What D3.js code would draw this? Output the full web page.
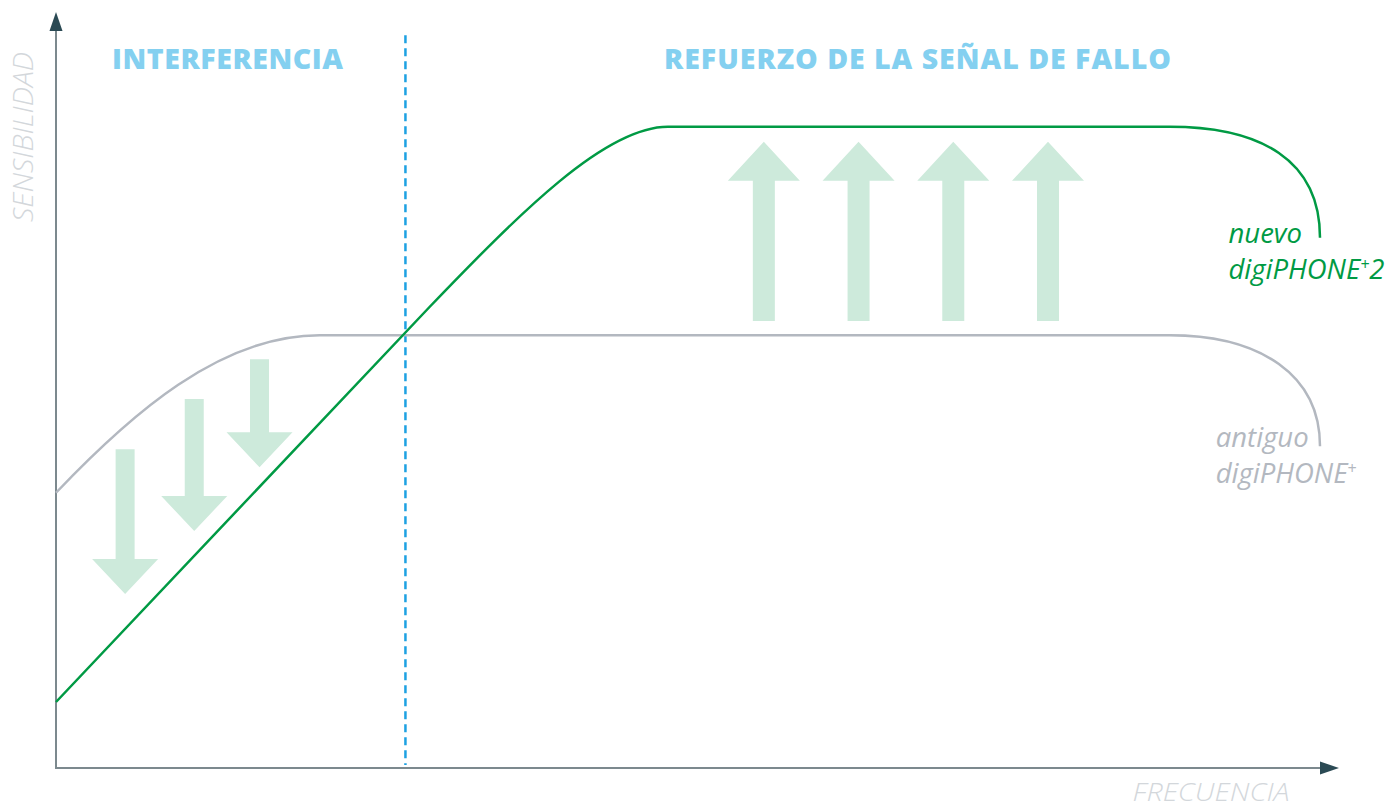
<!DOCTYPE html>
<html>
<head>
<meta charset="utf-8">
<script src="https://cdn.jsdelivr.net/npm/d3@7"></script>
<style>
  body { margin: 0; background: #fff; }
  svg { display: block; }
  .zone_title { font-family: "Open Sans", sans-serif; font-weight: 800; fill: #84d0f0; }
  .axis_label { font-family: "Open Sans", sans-serif; font-style: italic; font-weight: 300; fill: #d3d7db; }
  .series_label { font-family: "Open Sans", sans-serif; font-style: italic; font-weight: 400; }
</style>
</head>
<body>
<svg id="chart"></svg>
<script>
// curve segments in chart units (frecuencia 0-100, sensibilidad 0-100)
var nuevo_curve = [
    ["M", 0, 8.8],
    ["L", 29.2, 61.5],
    ["C", 36.25, 74.0, 42.9, 85.5, 47.8, 85.5],
    ["L", 87.0, 85.5],
    ["C", 94.1, 85.5, 98.75, 81.1, 98.75, 70.7]
];
var antiguo_curve = [
    ["M", 0, 36.7],
    ["C", 5.8, 47.1, 12.8, 57.7, 20.6, 57.7],
    ["L", 87.0, 57.7],
    ["C", 94.1, 57.7, 98.75, 52.4, 98.75, 42.9]
];
var divider_x = 27.3;
var divider_y = [0.4, 97.7];

// arrows: centre x, start y, end y
var down_arrows = [
    {x: 5.4, from: 42.5, to: 23.2},
    {x: 10.8, from: 49.2, to: 31.6},
    {x: 15.9, from: 54.5, to: 40.1}
];
var up_arrows = [
    {x: 55.3, from: 59.6, to: 83.5},
    {x: 62.7, from: 59.6, to: 83.5},
    {x: 70.1, from: 59.6, to: 83.5},
    {x: 77.5, from: 59.6, to: 83.5}
];

var zone_titles = [
    {text: "INTERFERENCIA", x: 13.4, len: 231},
    {text: "REFUERZO DE LA SEÑAL DE FALLO", x: 67.3, len: 507}
];
var series_labels = [
    {lines: ["nuevo", "digiPHONE", "+", "2"], x: 91.6, y: 70.0, colour: "#009a44"},
    {lines: ["antiguo", "digiPHONE", "+", ""], x: 90.6, y: 42.8, colour: "#b3b8c0"}
];

var width = 1392, height = 809;
var svg = d3.select("#chart").attr("width", width).attr("height", height);

var x = d3.scaleLinear().domain([0, 100]).range([56, 1336]);
var y = d3.scaleLinear().domain([0, 100]).range([768, 18]);

function curve_path(segs) {
    var p = d3.path();
    segs.forEach(function(s) {
        if (s[0] === "M") p.moveTo(x(s[1]), y(s[2]));
        else if (s[0] === "L") p.lineTo(x(s[1]), y(s[2]));
        else p.bezierCurveTo(x(s[1]), y(s[2]), x(s[3]), y(s[4]), x(s[5]), y(s[6]));
    });
    return p.toString();
}

function arrow_path(d, shaft, head_w, head_h) {
    var cx = x(d.x), y0 = y(d.from), y1 = y(d.to);
    var dir = y1 > y0 ? 1 : -1;
    var hb = y1 - dir * head_h;
    var p = d3.path();
    p.moveTo(cx - shaft / 2, y0);
    p.lineTo(cx + shaft / 2, y0);
    p.lineTo(cx + shaft / 2, hb);
    p.lineTo(cx + head_w / 2, hb);
    p.lineTo(cx, y1);
    p.lineTo(cx - head_w / 2, hb);
    p.lineTo(cx - shaft / 2, hb);
    p.closePath();
    return p.toString();
}

//arrows behind the curves
svg.selectAll(".down_arrow")
    .data(down_arrows)
    .join("path")
    .attr("class", "down_arrow")
    .attr("fill", "#cdeadb")
    .attr("d", d => arrow_path(d, 19, 66, 35));

svg.selectAll(".up_arrow")
    .data(up_arrows)
    .join("path")
    .attr("class", "up_arrow")
    .attr("fill", "#cdeadb")
    .attr("d", d => arrow_path(d, 22, 72, 39));

//axes
svg.append("line")
    .attr("x1", x(0)).attr("y1", y(0))
    .attr("x2", x(0)).attr("y2", 28)
    .attr("stroke", "#7c898e").attr("stroke-width", 2);
svg.append("line")
    .attr("x1", x(0) - 1).attr("y1", y(0))
    .attr("x2", 1324).attr("y2", y(0))
    .attr("stroke", "#7c898e").attr("stroke-width", 2);
svg.append("path")
    .attr("fill", "#2b4a54")
    .attr("d", "M" + x(0) + ",12 L" + (x(0) + 6.5) + ",31 L" + (x(0) - 6.5) + ",31 Z");
svg.append("path")
    .attr("fill", "#2b4a54")
    .attr("d", "M1339," + y(0) + " L1320," + (y(0) - 6.5) + " L1320," + (y(0) + 6.5) + " Z");

//divider
svg.append("line")
    .attr("x1", x(divider_x)).attr("x2", x(divider_x))
    .attr("y1", y(divider_y[1])).attr("y2", y(divider_y[0]))
    .attr("stroke", "#1da1e2").attr("stroke-width", 2.5)
    .attr("stroke-dasharray", "8,5");

//curves
svg.append("path")
    .attr("d", curve_path(antiguo_curve))
    .attr("fill", "none").attr("stroke", "#b3b8c0").attr("stroke-width", 2.5);
svg.append("path")
    .attr("d", curve_path(nuevo_curve))
    .attr("fill", "none").attr("stroke", "#009a44").attr("stroke-width", 2.5);

//texts
svg.selectAll(".zone_title")
    .data(zone_titles)
    .join("text")
    .attr("class", "zone_title")
    .attr("x", d => x(d.x))
    .attr("y", 69)
    .attr("text-anchor", "middle")
    .attr("font-size", 28.5)
    .attr("textLength", d => d.len)
    .attr("lengthAdjust", "spacing")
    .text(d => d.text);

svg.append("text")
    .attr("class", "axis_label")
    .attr("transform", "translate(33,137) rotate(-90)")
    .attr("text-anchor", "middle")
    .attr("font-size", 27)
    .attr("textLength", 170)
    .attr("lengthAdjust", "spacingAndGlyphs")
    .text("SENSIBILIDAD");

svg.append("text")
    .attr("class", "axis_label")
    .attr("x", 1211)
    .attr("y", 801)
    .attr("text-anchor", "middle")
    .attr("font-size", 26)
    .attr("textLength", 157)
    .attr("lengthAdjust", "spacingAndGlyphs")
    .text("FRECUENCIA");

series_labels.forEach(function(d) {
    svg.append("text")
        .attr("class", "series_label")
        .attr("fill", d.colour)
        .attr("font-size", 27.5)
        .attr("x", x(d.x))
        .attr("y", y(d.y))
        .text(d.lines[0]);
    var l2 = svg.append("text")
        .attr("class", "series_label")
        .attr("fill", d.colour)
        .attr("font-size", 27.5)
        .attr("x", x(d.x))
        .attr("y", y(d.y) + 36);
    l2.append("tspan").text(d.lines[1]);
    l2.append("tspan").attr("font-size", 16).attr("dy", -9).text(d.lines[2]);
    l2.append("tspan").attr("dy", 9).text(d.lines[3]);
});
</script>
</body>
</html>
